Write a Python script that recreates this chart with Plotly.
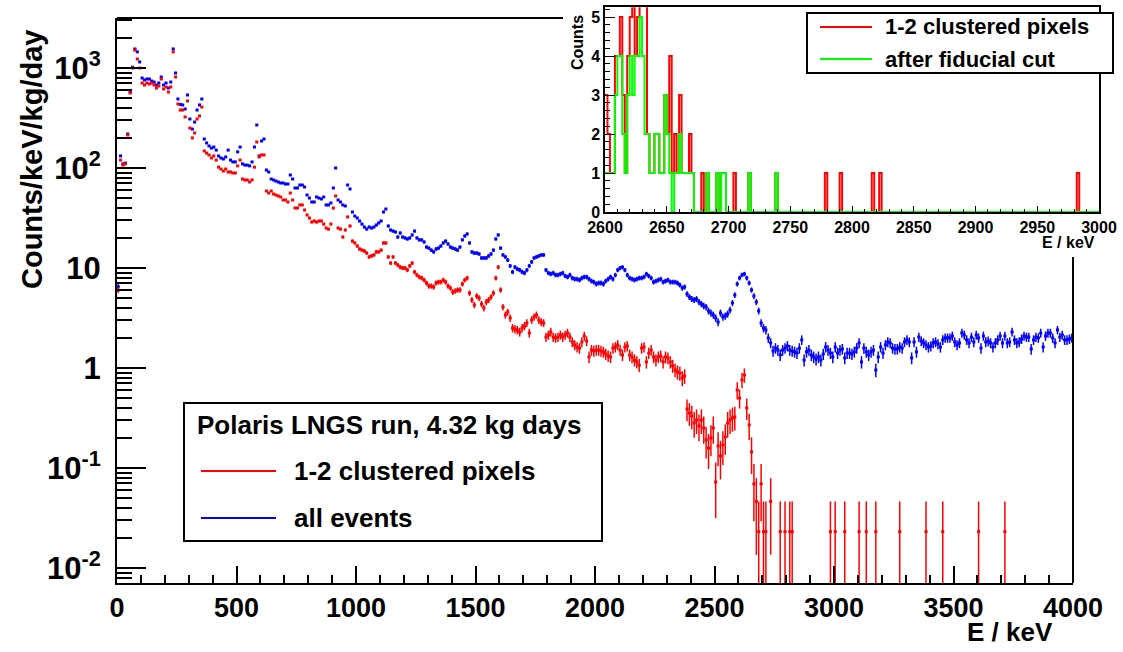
import numpy as np
import plotly.graph_objects as go

# ---------------- data ----------------
BIN_W = 10.0          # keV per bin
EXPOSURE = 4.32       # kg days
energy = np.arange(5, 4000, 10)   # bin centres (keV)

# all events (counts/keV/kg/day), 10 keV bins from 0 to 4000 keV
blue = [
    6.5, 132, 110, 112, 219, 575, 1020, 1550, 1450, 1150,
    794, 759, 776, 776, 741, 724, 676, 708, 813, 676,
    708, 631, 724, 1550, 891, 490, 432, 427, 389, 537,
    309, 245, 288, 380, 427, 490, 195, 178, 166, 158,
    162, 151, 132, 126, 123, 129, 151, 120, 115, 115,
    145, 162, 110, 107, 107, 105, 115, 162, 269, 132,
    186, 195, 95.5, 91.2, 77.6, 75.9, 74.1, 72.4, 70.8, 70.8,
    69.2, 69.2, 85.1, 77.6, 63.1, 63.1, 67.6, 67.6, 64.6, 53.7,
    50.1, 45.7, 45.7, 51.3, 50.1, 49.0, 51.3, 42.7, 42.7, 44.7,
    63.1, 100, 47.9, 45.7, 42.7, 41.7, 67.6, 61.7, 36.3, 33.1,
    31.6, 29.5, 27.5, 25.7, 24.5, 25.7, 25.1, 25.7, 26.9, 28.2,
    29.5, 36.3, 38.9, 26.3, 24.0, 23.4, 22.9, 20.4, 22.4, 20.4,
    20.0, 19.5, 20.0, 21.4, 23.4, 20.0, 19.1, 19.1, 18.2, 16.2,
    15.8, 15.1, 14.5, 15.5, 15.8, 16.6, 17.8, 18.6, 17.4, 16.2,
    15.8, 15.5, 15.1, 16.2, 19.1, 20.9, 21.9, 17.8, 14.5, 14.1,
    14.1, 13.8, 12.6, 12.6, 12.6, 13.2, 13.8, 15.1, 19.5, 21.4,
    15.8, 13.5, 12.9, 12.0, 10.5, 9.12, 10.2, 9.77, 9.55, 9.12,
    8.91, 9.55, 10.5, 11.5, 12.6, 12.9, 13.2, 13.5, 13.5, 9.55,
    8.91, 8.71, 8.91, 8.51, 8.51, 8.71, 8.91, 8.32, 8.13, 8.51,
    7.94, 7.76, 7.76, 7.59, 7.94, 8.13, 8.13, 7.76, 7.41, 7.24,
    6.92, 7.08, 7.08, 6.92, 7.41, 7.76, 8.13, 7.76, 8.51, 9.55,
    10.0, 10.2, 9.55, 8.51, 7.94, 7.76, 7.59, 7.76, 7.94, 7.94,
    8.13, 8.71, 8.32, 7.94, 7.24, 7.41, 7.59, 7.76, 7.24, 7.41,
    7.59, 7.24, 7.24, 7.24, 7.08, 6.76, 6.31, 6.46, 5.50, 5.13,
    4.90, 4.79, 4.90, 4.57, 4.37, 4.17, 4.07, 3.72, 3.55, 3.39,
    3.16, 2.88, 3.55, 3.24, 3.31, 3.47, 3.80, 4.47, 5.37, 6.92,
    7.94, 8.51, 8.71, 7.94, 7.08, 6.03, 5.25, 4.57, 3.72, 2.82,
    2.51, 2.40, 2.00, 1.78, 1.48, 1.58, 1.51, 1.35, 1.51, 1.58,
    1.66, 1.51, 1.48, 1.45, 1.41, 1.58, 1.91, 1.20, 1.45, 1.51,
    1.35, 1.29, 1.23, 1.29, 1.20, 1.38, 1.62, 1.51, 1.41, 1.29,
    1.62, 1.41, 1.51, 1.55, 1.26, 1.41, 1.41, 1.38, 1.45, 1.58,
    1.78, 1.15, 1.58, 1.45, 1.35, 1.45, 1.51, 0.955, 1.29, 1.62,
    1.41, 1.70, 1.82, 1.78, 1.58, 1.55, 1.55, 1.62, 1.58, 1.82,
    1.91, 1.82, 1.26, 1.82, 1.45, 2.04, 1.86, 1.78, 1.70, 1.62,
    1.66, 1.78, 1.82, 1.74, 1.62, 1.91, 2.00, 2.00, 2.00, 2.09,
    1.82, 1.70, 1.78, 2.24, 2.14, 1.91, 1.78, 2.04, 1.82, 2.14,
    2.00, 1.58, 2.09, 1.82, 1.86, 1.78, 1.62, 1.78, 1.91, 2.09,
    1.78, 2.09, 1.78, 1.82, 2.29, 1.91, 1.78, 1.82, 1.95, 2.09,
    2.04, 2.04, 1.55, 1.91, 2.04, 2.00, 2.24, 1.62, 2.09, 2.24,
    2.24, 2.00, 1.78, 2.40, 2.04, 2.14, 1.91, 1.91, 1.95, 2.00,
]

# 1-2 clustered pixels, 10 keV bins from 0 to 2900 keV (0 = empty bin)
red = [
    6.0, 120, 107, 110, 214, 562, 1000, 1510, 1230, 1000,
    708, 676, 708, 692, 708, 676, 631, 661, 776, 617,
    646, 575, 646, 1450, 813, 437, 380, 380, 324, 468,
    251, 200, 224, 309, 331, 407, 148, 141, 135, 126,
    132, 120, 102, 97.7, 93.3, 97.7, 91.2, 91.2, 89.1, 89.1,
    105, 120, 77.6, 75.9, 75.9, 72.4, 75.9, 102, 182, 129,
    135, 135, 58.9, 56.2, 58.9, 55.0, 53.7, 52.5, 51.3, 47.9,
    47.9, 45.7, 56.2, 47.9, 39.8, 39.8, 42.7, 42.7, 38.0, 33.9,
    31.6, 28.8, 29.5, 28.8, 29.5, 29.5, 27.5, 25.1, 24.5, 27.5,
    39.8, 52.5, 25.1, 24.5, 20.4, 24.0, 32.4, 26.3, 18.6, 17.8,
    16.6, 15.5, 15.1, 14.8, 14.1, 12.9, 13.2, 13.5, 14.5, 14.5,
    15.1, 17.8, 17.8, 12.9, 11.2, 12.9, 11.2, 10.7, 10.2, 10.0,
    10.0, 9.55, 10.5, 11.2, 9.12, 8.51, 8.13, 7.94, 7.59, 7.08,
    6.61, 6.61, 6.46, 7.08, 7.24, 7.24, 7.59, 7.24, 6.61, 6.31,
    5.75, 5.89, 6.03, 6.03, 6.92, 7.59, 7.94, 5.62, 4.79, 4.27,
    5.25, 5.01, 4.37, 3.98, 4.57, 4.79, 5.13, 5.62, 7.94, 10.2,
    6.03, 4.07, 3.39, 3.63, 3.16, 2.51, 2.45, 2.40, 2.29, 2.51,
    2.63, 2.82, 2.24, 3.02, 3.24, 3.39, 3.02, 2.88, 2.82, 2.04,
    2.14, 2.29, 2.04, 2.00, 2.04, 2.14, 2.04, 2.14, 2.24, 2.04,
    1.82, 1.70, 1.62, 1.58, 1.82, 2.09, 1.86, 1.29, 1.51, 1.48,
    1.51, 1.51, 1.48, 1.45, 1.38, 1.32, 1.29, 1.58, 1.62, 1.70,
    1.51, 1.35, 1.62, 1.66, 1.35, 1.29, 1.20, 1.15, 1.07, 1.58,
    1.62, 1.15, 1.41, 1.51, 1.29, 1.20, 1.29, 1.32, 1.15, 1.29,
    1.26, 1.15, 1.05, 0.955, 0.912, 0.891, 0.794, 0.832, 0.389, 0.355,
    0.331, 0.282, 0.302, 0.263, 0.302, 0.251, 0.191, 0.158, 0.200, 0.251,
    0.0724, 0.166, 0.132, 0.170, 0.204, 0.282, 0.302, 0.316, 0.324, 0.603,
    0.501, 0.759, 0.851, 0.398, 0.269, 0.145, 0.0694, 0.0463, 0.0231, 0.0694,
    0.0231, 0.0231, 0, 0.0463, 0, 0, 0, 0.0231, 0, 0.0231,
    0, 0.0231, 0.0231, 0, 0, 0, 0, 0, 0, 0,
]
# isolated single-count bins of the red spectrum above 2900 keV
red_hi_E = [2985, 3005, 3045, 3105, 3135, 3175, 3275, 3385, 3455, 3605, 3715]
red_hi = [0.0231, 0.0231, 0.0231, 0.0231, 0.0231, 0.0231, 0.0231, 0.0231, 0.0231, 0.0231, 0.0231]

# inset: counts per 2 keV bin (lower bin edge -> counts)
ins_red_E = [2600, 2602, 2604, 2606, 2608, 2610, 2612, 2614, 2616, 2618, 2620, 2622,
             2624, 2626, 2628, 2630, 2632, 2634, 2636, 2638, 2640, 2642, 2644, 2646,
             2648, 2650, 2652, 2654, 2656, 2658, 2660, 2662, 2664, 2666, 2668, 2670,
             2678, 2682, 2690, 2694, 2696, 2704, 2716, 2738, 2778, 2790, 2816, 2822, 2982]
ins_red_N = [3, 2, 1, 1, 4, 4, 5, 3, 1, 4, 5, 6,
             4, 5, 6, 6, 6, 2, 1, 1, 2, 2, 1, 1,
             3, 2, 4, 1, 2, 1, 3, 1, 1, 1, 2, 1,
             1, 1, 1, 1, 1, 1, 1, 1, 1, 1, 1, 1, 1]
ins_grn_E = [2600, 2602, 2604, 2606, 2608, 2610, 2612, 2614, 2616, 2618, 2620, 2622,
             2624, 2626, 2628, 2630, 2632, 2634, 2636, 2638, 2640, 2642, 2644, 2646,
             2648, 2650, 2652, 2656, 2658, 2660, 2662, 2664, 2666, 2668, 2670,
             2682, 2690, 2694, 2696, 2716, 2738]
ins_grn_N = [1, 1, 1, 1, 3, 4, 4, 2, 1, 3, 4, 3,
             4, 4, 5, 4, 2, 2, 1, 1, 2, 2, 1, 1,
             3, 2, 1, 1, 1, 2, 1, 1, 1, 1, 1,
             1, 1, 1, 1, 1, 1]

y_tickvals = [0.01, 0.1, 1, 10, 100, 1000]
y_ticktext = ["10<sup>-2</sup>", "10<sup>-1</sup>", "1", "10", "10<sup>2</sup>", "10<sup>3</sup>"]

# ---------------- layout helpers ----------------
W, H = 1123, 652
FONT = "Liberation Sans, Arial, Helvetica, sans-serif"


def px(x):
    return x / W


def py(y):
    return 1 - y / H


fig = go.Figure()


def add_series(E, vals, color):
    E = np.asarray(E, float)
    v = np.asarray(vals, float)
    m = v > 0
    E, v = E[m], v[m]
    err = np.sqrt(v / (EXPOSURE * BIN_W))
    fig.add_trace(go.Scatter(
        x=E, y=v, mode="markers",
        marker=dict(symbol="square", size=3, color=color, line=dict(width=0)),
        error_y=dict(type="data", array=err, arrayminus=err, color=color,
                     thickness=1.5, width=0),
        error_x=dict(type="constant", value=BIN_W / 2, color=color,
                     thickness=1.5, width=0),
        xaxis="x", yaxis="y", showlegend=False, hoverinfo="x+y"))


add_series(energy, blue, "#0000ff")
add_series(list(energy[:len(red)]) + red_hi_E, red + red_hi, "#ff0000")

# inset step histograms
edges = np.arange(2600, 3000, 2)


def add_hist(Es, Ns, color):
    counts = np.zeros(len(edges))
    for e, n in zip(Es, Ns):
        counts[int((e - 2600) // 2)] = n
    xs = np.append(edges, 3000)
    ys = np.append(counts, counts[-1])
    fig.add_trace(go.Scatter(x=xs, y=ys, mode="lines", line=dict(color=color, width=2, shape="hv"),
                             xaxis="x2", yaxis="y2", showlegend=False, hoverinfo="x+y"))


add_hist(ins_red_E, ins_red_N, "#ff0000")
add_hist(ins_grn_E, ins_grn_N, "#00ff00")

tickfont_x = dict(family=FONT, size=27, color="black", weight="bold")
tickfont_y = dict(family=FONT, size=31, color="black", weight="bold")
tickfont_ins = dict(family=FONT, size=16, color="black", weight="bold")

minor_log = [m * 10.0 ** k for k in range(-3, 4) for m in range(2, 10)]

fig.update_layout(
    width=W, height=H,
    margin=dict(l=0, r=0, t=0, b=0, autoexpand=False),
    paper_bgcolor="white", plot_bgcolor="white",
    showlegend=False,
    xaxis=dict(domain=[px(117), px(1073)], range=[0, 4000], anchor="y", automargin=False,
               showline=True, linecolor="black", linewidth=2, mirror=False,
               ticks="inside", ticklen=17, tickwidth=1.5, tickcolor="black",
               tick0=0, dtick=500, tickfont=tickfont_x,
               minor=dict(dtick=100, tick0=0, ticks="inside", ticklen=8, tickwidth=1.5, tickcolor="black"),
               showgrid=False, zeroline=False),
    yaxis=dict(domain=[py(583), py(18)], type="log", range=[-2.15, 3.5], anchor="x", automargin=False,
               showline=True, linecolor="black", linewidth=2, mirror=False,
               ticks="inside", ticklen=29, tickwidth=1.5, tickcolor="black",
               tickmode="array", tickvals=y_tickvals, ticktext=y_ticktext, tickfont=tickfont_y,
               ticklabelstandoff=8,
               minor=dict(tickmode="array", tickvals=minor_log, ticks="inside", ticklen=15,
                          tickwidth=1.5, tickcolor="black"),
               showgrid=False, zeroline=False),
    xaxis2=dict(domain=[px(605), px(1099)], range=[2600, 3000], anchor="y2", automargin=False,
                showline=True, linecolor="black", linewidth=1.5, mirror=True,
                ticks="inside", ticklen=6, tickwidth=1, tickcolor="black",
                tick0=2600, dtick=50, tickfont=tickfont_ins,
                minor=dict(dtick=10, tick0=2600, ticks="inside", ticklen=3, tickwidth=1, tickcolor="black"),
                showgrid=False, zeroline=False),
    yaxis2=dict(domain=[py(212), py(7.3)], range=[0, 5.25], anchor="x2", automargin=False,
                showline=True, linecolor="black", linewidth=1.5, mirror=True,
                ticks="inside", ticklen=10, tickwidth=1, tickcolor="black",
                tick0=0, dtick=1, tickfont=tickfont_ins,
                minor=dict(dtick=0.2, tick0=0, ticks="inside", ticklen=5, tickwidth=1, tickcolor="black"),
                showgrid=False, zeroline=False),
)

shapes = []
# main frame: top and right edges (partly hidden behind inset pad)
shapes.append(dict(type="line", xref="paper", yref="paper", x0=px(117), x1=px(563), y0=py(18), y1=py(18),
                   line=dict(color="black", width=2)))
shapes.append(dict(type="line", xref="paper", yref="paper", x0=px(1073), x1=px(1073), y0=py(257), y1=py(583),
                   line=dict(color="black", width=2)))
# main legend
shapes.append(dict(type="rect", xref="paper", yref="paper", x0=px(184), x1=px(602), y0=py(541), y1=py(403),
                   line=dict(color="black", width=2), fillcolor="white", layer="above"))
shapes.append(dict(type="line", xref="paper", yref="paper", x0=px(201), x1=px(276), y0=py(471), y1=py(471),
                   line=dict(color="#ff0000", width=2), layer="above"))
shapes.append(dict(type="line", xref="paper", yref="paper", x0=px(201), x1=px(276), y0=py(518), y1=py(518),
                   line=dict(color="#0000ff", width=2), layer="above"))
# inset legend
shapes.append(dict(type="rect", xref="paper", yref="paper", x0=px(807), x1=px(1113), y0=py(73), y1=py(13),
                   line=dict(color="black", width=2), fillcolor="white", layer="above"))
shapes.append(dict(type="line", xref="paper", yref="paper", x0=px(820), x1=px(872), y0=py(27), y1=py(27),
                   line=dict(color="#ff0000", width=2), layer="above"))
shapes.append(dict(type="line", xref="paper", yref="paper", x0=px(820), x1=px(872), y0=py(59), y1=py(59),
                   line=dict(color="#00ff00", width=2), layer="above"))
fig.update_layout(shapes=shapes)


def ann(text, x, y, size, xanchor="left", yanchor="middle", angle=0):
    return dict(text=text, x=px(x), y=py(y), xref="paper", yref="paper", showarrow=False,
                xanchor=xanchor, yanchor=yanchor, textangle=angle,
                font=dict(family=FONT, size=size, color="black", weight="bold"))


annotations = [
    ann("Polaris LNGS run, 4.32 kg days", 195, 425, 26),
    ann("1-2 clustered pixels", 292, 471, 26),
    ann("all events", 292, 518, 26),
    ann("1-2 clustered pixels", 883, 27, 22),
    ann("after fiducial cut", 883, 59, 22),
    ann("Counts/keV/kg/day", 32, 160, 29, xanchor="center", angle=-90),
    ann("E / keV", 1055, 632, 26, xanchor="right"),
    ann("Counts", 578, 43, 16, xanchor="center", angle=-90),
    ann("E / keV", 1097, 242, 16, xanchor="right"),
]
fig.update_layout(annotations=annotations)

fig.write_html("out.html")
